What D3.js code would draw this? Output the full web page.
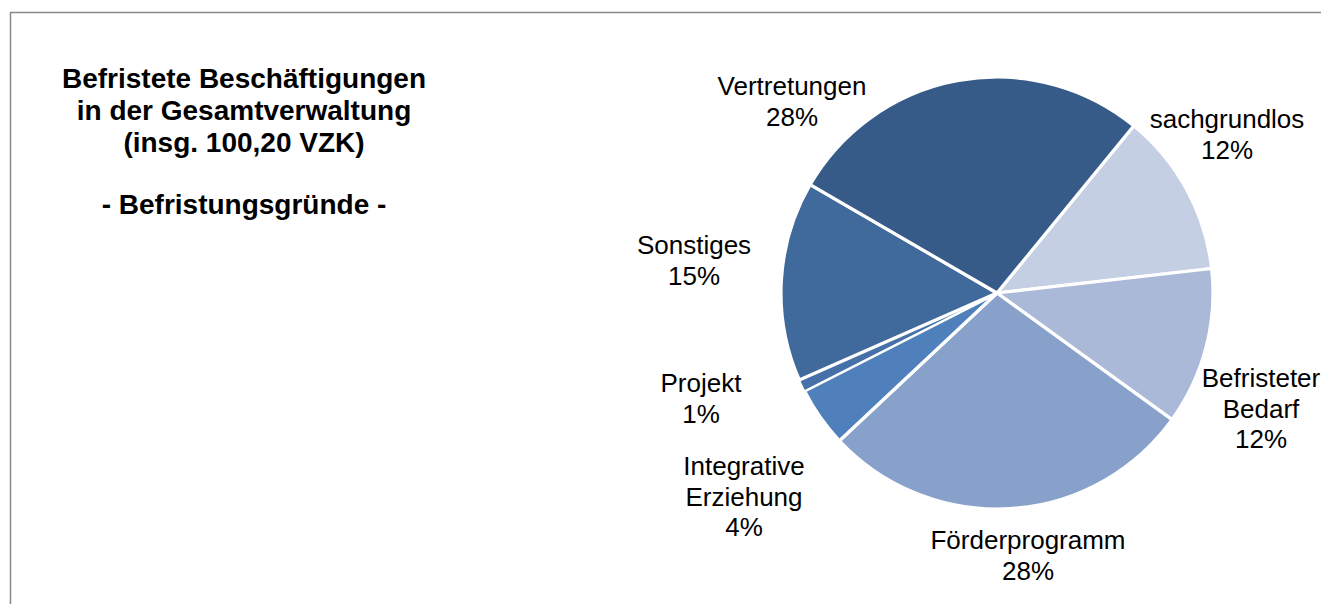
<!DOCTYPE html>
<html>
<head>
<meta charset="utf-8">
<script src="https://cdn.jsdelivr.net/npm/d3@7"></script>
<style>
  html, body { margin: 0; padding: 0; background: #fff; }
  svg { display: block; font-family: Arial, "Liberation Sans", sans-serif; }
</style>
</head>
<body>
<svg id="chart" width="1321" height="604"></svg>
<script>
// ---- data ----
const categories = ["sachgrundlos", "Befristeter Bedarf", "Förderprogramm", "Integrative Erziehung", "Projekt", "Sonstiges", "Vertretungen"];
const values = [12.3, 11.8, 28.1, 4.5, 0.9, 15.0, 27.6];
const labelLines = [["sachgrundlos"], ["Befristeter", "Bedarf"], ["Förderprogramm"], ["Integrative", "Erziehung"], ["Projekt"], ["Sonstiges"], ["Vertretungen"]];
const colors = ["#C4CFE3", "#AAB9D8", "#87A1CB", "#4F80BC", "#4570A8", "#406A9B", "#365B88"];
const titleLines = ["Befristete Beschäftigungen", "in der Gesamtverwaltung", "(insg. 100,20 VZK)"];
const subtitle = "- Befristungsgründe -";

// ---- layout ----
const W = 1321, H = 604;
const cx = 997, cy = 293, R = 216;
const startDeg = 39.3;
// label centre offsets from pie centre (x) and first-baseline offset (y)
const labelPos = {
  "sachgrundlos": [230, -165],
  "Befristeter Bedarf": [264, 94],
  "Förderprogramm": [31, 256],
  "Integrative Erziehung": [-253, 182],
  "Projekt": [-296, 99],
  "Sonstiges": [-303, -39],
  "Vertretungen": [-205, -198]
};

const svg = d3.select("#chart");

// frame
svg.append("path")
  .attr("d", `M10.5,${H} L10.5,12.5 L${W},12.5`)
  .attr("fill", "none").attr("stroke", "#8a8a8a").attr("stroke-width", 1.5);

// title
const tg = svg.append("g").attr("font-weight", "bold").attr("font-size", 28).attr("text-anchor", "middle").attr("fill", "#000");
titleLines.forEach((t, i) => tg.append("text").attr("x", 244).attr("y", 88 + i * 32).text(t));
tg.append("text").attr("x", 244).attr("y", 214).text(subtitle);

// pie
const total = d3.sum(values);
const pie = d3.pie().sort(null).value(d => d.v)
  .startAngle(startDeg * Math.PI / 180).endAngle(startDeg * Math.PI / 180 + 2 * Math.PI);
const arc = d3.arc().innerRadius(0).outerRadius(R);
const data = categories.map((c, i) => ({ c, v: values[i], col: colors[i], lines: labelLines[i] }));
const arcs = pie(data);

const g = svg.append("g").attr("transform", `translate(${cx},${cy})`);
g.selectAll("path").data(arcs).join("path")
  .attr("d", arc)
  .attr("fill", d => d.data.col)
  .attr("stroke", "#fff")
  .attr("stroke-width", d => d.data.c === "Projekt" ? 1.5 : 3.2)
  .attr("stroke-linejoin", "round");

// labels
const lg = svg.append("g").attr("font-size", 26).attr("text-anchor", "middle").attr("fill", "#000");
arcs.forEach(a => {
  const p = labelPos[a.data.c];
  const pct = d3.format(".0f")(a.data.v / total * 100) + "%";
  const lines = a.data.lines.concat([pct]);
  const t = lg.append("text").attr("x", cx + p[0]).attr("y", cy + p[1]);
  lines.forEach((ln, i) => t.append("tspan").attr("x", cx + p[0]).attr("dy", i === 0 ? 0 : 30.5).text(ln));
});
</script>
</body>
</html>
